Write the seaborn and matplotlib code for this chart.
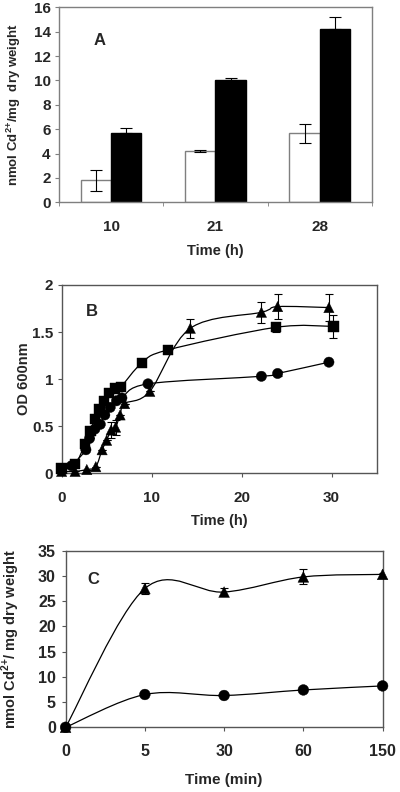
import numpy as np
import pandas as pd
import matplotlib
matplotlib.use("Agg")
import matplotlib.pyplot as plt
from matplotlib.path import Path
from matplotlib.patches import PathPatch
import seaborn as sns

# ---- panel A: Cd uptake per strain at three times
a_times = ["10", "21", "28"]
a_open = [1.8, 4.2, 5.65]
a_open_err = [0.85, 0.05, 0.75]
a_solid = [5.65, 10.0, 14.2]
a_solid_err = [0.45, 0.2, 1.0]

# ---- panel B: growth curves (OD 600nm)
b_sq_t = [0, 1.5, 2.6, 3.2, 3.7, 4.2, 4.7, 5.3, 5.9, 6.6, 8.9, 11.8, 23.8, 30.2]
b_sq_od = [0.05, 0.1, 0.31, 0.45, 0.58, 0.68, 0.77, 0.85, 0.9, 0.92, 1.17, 1.31, 1.55, 1.56]
b_sq_err = [0, 0, 0, 0, 0, 0, 0, 0, 0, 0, 0, 0, 0.05, 0.12]
b_ci_t = [0, 1.1, 2.7, 3.1, 3.7, 4.3, 4.8, 5.4, 6.1, 6.7, 9.6, 22.2, 24.0, 29.7]
b_ci_od = [0.03, 0.08, 0.25, 0.37, 0.47, 0.52, 0.62, 0.70, 0.77, 0.80, 0.95, 1.03, 1.06, 1.18]
b_ci_err = [0, 0, 0, 0, 0, 0, 0, 0, 0, 0, 0, 0, 0.03, 0]
b_tr_t = [0, 1.5, 2.8, 3.8, 4.5, 5.0, 5.5, 6.0, 6.5, 7.0, 9.8, 14.3, 22.2, 24.0, 29.7]
b_tr_od = [0.02, 0.02, 0.04, 0.07, 0.25, 0.35, 0.46, 0.49, 0.62, 0.74, 0.87, 1.54, 1.71, 1.77, 1.76]
b_tr_err = [0, 0, 0, 0, 0, 0, 0.08, 0.08, 0, 0, 0, 0.1, 0.11, 0.13, 0.14]

# ---- panel C: short-term Cd uptake
c_times = ["0", "5", "30", "60", "150"]
c_tri = [0, 27.5, 26.8, 29.8, 30.3]
c_tri_err = [0, 1.0, 0.8, 1.5, 0.3]
c_circ = [0, 6.5, 6.3, 7.4, 8.2]

sns.set_style("ticks")
plt.rcParams["font.family"] = ["Liberation Sans", "DejaVu Sans"]
plt.rcParams["font.weight"] = "bold"
plt.rcParams["axes.labelweight"] = "bold"
plt.rcParams["mathtext.fontset"] = "custom"
plt.rcParams["mathtext.rm"] = "Liberation Sans:bold"
plt.rcParams["mathtext.bf"] = "Liberation Sans:bold"

CD = "Cd$^{\\mathbf{2{+}}}$"


def smooth_path(xs, ys):
    # Excel-style smoothed line through the points (cubic Bezier segments)
    pts = np.column_stack([xs, ys]).astype(float)
    n = len(pts)
    verts, codes = [pts[0]], [Path.MOVETO]
    for i in range(n - 1):
        p0, p1 = pts[max(i - 1, 0)], pts[i]
        p2, p3 = pts[i + 1], pts[min(i + 2, n - 1)]
        verts += [p1 + (p2 - p0) / 6, p2 - (p3 - p1) / 6, p2]
        codes += [Path.CURVE4] * 3
    return Path(verts, codes)


def add_smooth(ax, xs, ys):
    ax.add_patch(PathPatch(smooth_path(xs, ys), fill=False, lw=0.9,
                           edgecolor="black", zorder=2))


fig = plt.figure(figsize=(4, 7.92), dpi=100)

# ================= A
axA = fig.add_axes([0.1475, 0.7446, 0.782, 0.2462])
dfA = pd.DataFrame({
    "time": a_times * 2,
    "val": a_open + a_solid,
    "strain": ["open"] * 3 + ["solid"] * 3,
})
sns.barplot(data=dfA, x="time", y="val", hue="strain", ax=axA,
            palette=["white", "black"], width=0.58, errorbar=None,
            saturation=1, legend=False, linewidth=1)
for cont, edge, errs, sym in zip(axA.containers, ["#7f7f7f", "black"],
                                 [a_open_err, a_solid_err], [True, False]):
    for bar, e in zip(cont, errs):
        bar.set_edgecolor(edge)
        xc = bar.get_x() + bar.get_width() / 2
        h = bar.get_height()
        yerr = [[e], [e]] if sym else [[0], [e]]
        axA.errorbar(xc, h, yerr=yerr, fmt="none", ecolor="black",
                     elinewidth=0.8, capsize=4, capthick=0.8, zorder=3)
axA.set_ylim(0, 16)
axA.set_yticks(range(0, 17, 2))
axA.set_xlim(-0.5, 2.5)
axA.set_xlabel("Time (h)", fontsize=10.5)
axA.set_ylabel("nmol " + CD + "/mg  dry weight", fontsize=9.5)
axA.xaxis.set_label_coords(0.5, -0.214)
axA.yaxis.set_label_coords(-0.115, 0.5)
axA.tick_params(axis="x", length=0, labelsize=11, pad=13)
axA.tick_params(axis="y", length=3, color="#7f7f7f", labelsize=11, pad=3)
axA.set_xticks([-0.5, 0.5, 1.5, 2.5], minor=True)
axA.tick_params(axis="x", which="minor", length=3, color="#7f7f7f")
for sp in axA.spines.values():
    sp.set_color("#7f7f7f")
    sp.set_linewidth(1)
axA.text(0.129, 0.832, "A", transform=axA.transAxes, fontsize=12,
         fontweight="bold", ha="center", va="center")

# ================= B
axB = fig.add_axes([0.154, 0.4024, 0.7875, 0.2378])
dfB = pd.concat([
    pd.DataFrame({"t": b_sq_t, "od": b_sq_od, "s": "sq"}),
    pd.DataFrame({"t": b_ci_t, "od": b_ci_od, "s": "ci"}),
    pd.DataFrame({"t": b_tr_t, "od": b_tr_od, "s": "tr"}),
])
for xs, ys, es in [(b_sq_t, b_sq_od, b_sq_err), (b_ci_t, b_ci_od, b_ci_err),
                   (b_tr_t, b_tr_od, b_tr_err)]:
    add_smooth(axB, xs, ys)
    axB.errorbar(xs, ys, yerr=es, fmt="none", ecolor="black",
                 elinewidth=0.8, capsize=3, capthick=0.8, zorder=2)
sns.scatterplot(data=dfB, x="t", y="od", style="s", ax=axB, color="black",
                markers={"sq": "s", "ci": "o", "tr": "^"}, s=55,
                edgecolor="black", linewidth=0.3, legend=False, zorder=3,
                clip_on=False)
axB.set_xlim(0, 35)
axB.set_ylim(0, 2)
axB.set_xticks([0, 10, 20, 30])
axB.set_yticks([0, 0.5, 1, 1.5, 2])
axB.set_yticklabels(["0", "0.5", "1", "1.5", "2"])
axB.set_xlabel("Time (h)", fontsize=10.5)
axB.set_ylabel("OD 600nm", fontsize=10.5)
axB.xaxis.set_label_coords(0.5, -0.216)
axB.yaxis.set_label_coords(-0.096, 0.5)
axB.tick_params(length=3, labelsize=11, color="#555555")
axB.tick_params(axis="x", pad=10)
axB.tick_params(axis="y", pad=3)
for sp in axB.spines.values():
    sp.set_color("#555555")
    sp.set_linewidth(1)
axB.text(0.095, 0.86, "B", transform=axB.transAxes, fontsize=12,
         fontweight="bold", ha="center", va="center")

# ================= C
axC = fig.add_axes([0.164, 0.0817, 0.7925, 0.223])
c_pos = np.arange(len(c_times))
dfC = pd.DataFrame({
    "pos": np.concatenate([c_pos, c_pos]),
    "val": c_tri + c_circ,
    "s": ["tr"] * len(c_pos) + ["ci"] * len(c_pos),
})
add_smooth(axC, c_pos, c_tri)
add_smooth(axC, c_pos, c_circ)
axC.errorbar(c_pos, c_tri, yerr=c_tri_err, fmt="none", ecolor="black",
             elinewidth=0.8, capsize=3, capthick=0.8, zorder=2)
sns.scatterplot(data=dfC, x="pos", y="val", style="s", ax=axC, color="black",
                markers={"tr": "^", "ci": "o"}, s=60, edgecolor="black",
                linewidth=0.3, legend=False, zorder=3, clip_on=False)
axC.set_xlim(0, len(c_times) - 1)
axC.set_ylim(0, 35)
axC.set_xticks(c_pos)
axC.set_xticklabels(c_times)
axC.set_yticks(range(0, 36, 5))
axC.set_xlabel("Time (min)", fontsize=11)
axC.set_ylabel("nmol " + CD + "/ mg dry weight", fontsize=10.5)
axC.xaxis.set_label_coords(0.5, -0.259)
axC.yaxis.set_label_coords(-0.138, 0.5)
axC.tick_params(length=3, labelsize=11.5, color="#555555")
axC.tick_params(axis="x", pad=9)
axC.tick_params(axis="y", pad=4)
for sp in axC.spines.values():
    sp.set_color("#555555")
    sp.set_linewidth(1)
axC.text(0.087, 0.834, "C", transform=axC.transAxes, fontsize=12,
         fontweight="bold", ha="center", va="center")

fig.savefig("out.png", dpi=100, facecolor="white")
